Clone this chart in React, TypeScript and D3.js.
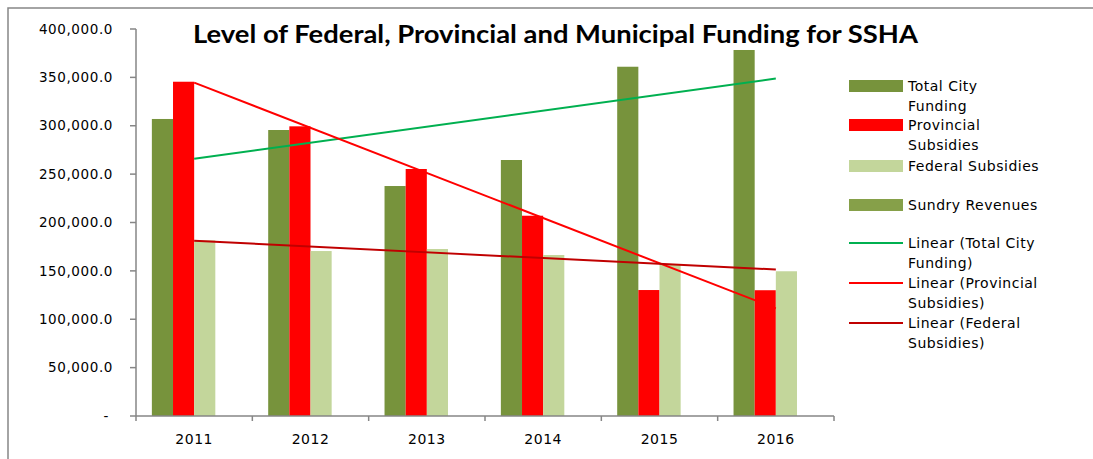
import React from 'react';
import * as d3 from 'd3';

// values
const years = ['2011', '2012', '2013', '2014', '2015', '2016'];
const totalCity = [307000, 295600, 237700, 264600, 361000, 378300];
const provincial = [345500, 299400, 255300, 207000, 130200, 130000];
const federal = [181600, 170500, 172600, 166400, 156800, 149600];
const sundry = [null, null, null, null, null, null];
const yTicks = [0, 50000, 100000, 150000, 200000, 250000, 300000, 350000, 400000];

const series = [
  { key: 'total', name: ['Total City', 'Funding'], values: totalCity, color: '#77933C' },
  { key: 'prov', name: ['Provincial', 'Subsidies'], values: provincial, color: '#FF0000' },
  { key: 'fed', name: ['Federal Subsidies'], values: federal, color: '#C3D69B' },
  { key: 'sundry', name: ['Sundry Revenues'], values: sundry, color: '#86A049' },
];

const trends = [
  { name: ['Linear (Total City', 'Funding)'], values: totalCity, color: '#00B050' },
  { name: ['Linear (Provincial', 'Subsidies)'], values: provincial, color: '#FF0000' },
  { name: ['Linear (Federal', 'Subsidies)'], values: federal, color: '#C00000' },
];

// least squares fit over x = 1..n, like Excel's linear trendline
const fit = (vals: number[]) => {
  const xs = vals.map((_, i) => i + 1);
  const mx = d3.mean(xs)!;
  const my = d3.mean(vals)!;
  const sxy = d3.sum(xs, (x, i) => (x - mx) * (vals[i] - my));
  const sxx = d3.sum(xs, (x) => (x - mx) * (x - mx));
  const slope = sxy / sxx;
  return (x: number) => my + slope * (x - mx);
};

const fmt = d3.format(',.1f');
const axisColor = '#868686';

export default function App() {
  const left = 136, right = 834, top = 29, bottom = 416;

  const y = d3.scaleLinear().domain([0, 400000]).range([bottom, top]);
  const x0 = d3.scaleBand().domain(years).range([left, right]);
  const bw = x0.bandwidth();
  const gap = (bw * 1.5) / 5.5;
  const x1 = d3.scaleBand().domain(series.map((s) => s.key)).range([gap / 2, bw - gap / 2]);

  const lineGen = d3.line<[number, number]>().x((d) => d[0]).y((d) => d[1]);

  return (
    <svg width={1093} height={459} style={{ position: 'absolute', left: 0, top: 0, background: '#fff' }}>
      {/* chart frame, cut off at right and bottom like the source */}
      <rect x={8} y={8} width={1200} height={600} fill="#fff" stroke={axisColor} strokeWidth={1.5} />

      <text x={555.5} y={43} textAnchor="middle" fontFamily="Lato, 'Open Sans', sans-serif" fontWeight="bold"
        fontSize={25} textLength={725} lengthAdjust="spacingAndGlyphs" fill="#000">
        Level of Federal, Provincial and Municipal Funding for SSHA
      </text>

      {/* bars */}
      {series.map((s) => (
        <g key={s.key}>
          {s.values.map((v, i) =>
            v == null ? null : (
              <rect key={i} x={x0(years[i])! + x1(s.key)!} y={y(v)} width={x1.bandwidth()}
                height={bottom - y(v)} fill={s.color} />
            )
          )}
        </g>
      ))}

      {/* trend lines */}
      {trends.map((t, k) => {
        const f = fit(t.values);
        const pts: [number, number][] = [
          [x0(years[0])! + bw / 2, y(f(1))],
          [x0(years[years.length - 1])! + bw / 2, y(f(years.length))],
        ];
        return <path key={k} d={lineGen(pts)!} stroke={t.color} strokeWidth={2} fill="none" />;
      })}

      {/* y axis */}
      <line x1={left} x2={left} y1={top} y2={bottom} stroke={axisColor} strokeWidth={1.5} />
      {yTicks.map((t) => (
        <g key={t}>
          <line x1={left - 6} x2={left} y1={y(t)} y2={y(t)} stroke={axisColor} strokeWidth={1.5} />
          <text x={t === 0 ? 109 : 113} y={y(t)} dy="0.35em" textAnchor="end" fontFamily="'DejaVu Sans'"
            fontSize={13.5} letterSpacing={0.6} fill="#000">
            {t === 0 ? '-' : fmt(t)}
          </text>
        </g>
      ))}

      {/* x axis */}
      <line x1={left} x2={right} y1={bottom} y2={bottom} stroke={axisColor} strokeWidth={1.5} />
      {years.map((yr) => (
        <g key={yr}>
          <line x1={x0(yr)!} x2={x0(yr)!} y1={bottom} y2={bottom + 5} stroke={axisColor} strokeWidth={1.5} />
          <text x={x0(yr)! + bw / 2} y={444} textAnchor="middle" fontFamily="'DejaVu Sans'" fontSize={14}
            letterSpacing={0.5} fill="#000">
            {yr}
          </text>
        </g>
      ))}
      <line x1={right} x2={right} y1={bottom} y2={bottom + 5} stroke={axisColor} strokeWidth={1.5} />

      {/* legend */}
      {[
        { name: series[0].name, color: series[0].color, cy: 86, bar: true },
        { name: series[1].name, color: series[1].color, cy: 125, bar: true },
        { name: series[2].name, color: series[2].color, cy: 166, bar: true },
        { name: series[3].name, color: series[3].color, cy: 205, bar: true },
        { name: trends[0].name, color: trends[0].color, cy: 243, bar: false },
        { name: trends[1].name, color: trends[1].color, cy: 283, bar: false },
        { name: trends[2].name, color: trends[2].color, cy: 323, bar: false },
      ].map((e, i) => (
        <g key={i}>
          {e.bar ? (
            <rect x={849} y={e.cy - 6} width={54} height={12} fill={e.color} />
          ) : (
            <line x1={849} x2={903} y1={e.cy} y2={e.cy} stroke={e.color} strokeWidth={2} />
          )}
          {e.name.map((ln, j) => (
            <text key={j} x={908} y={e.cy + j * 20.5} dy="0.35em" fontFamily="'DejaVu Sans'" fontSize={14}
              letterSpacing={0.5} fill="#000">
              {ln}
            </text>
          ))}
        </g>
      ))}
    </svg>
  );
}
